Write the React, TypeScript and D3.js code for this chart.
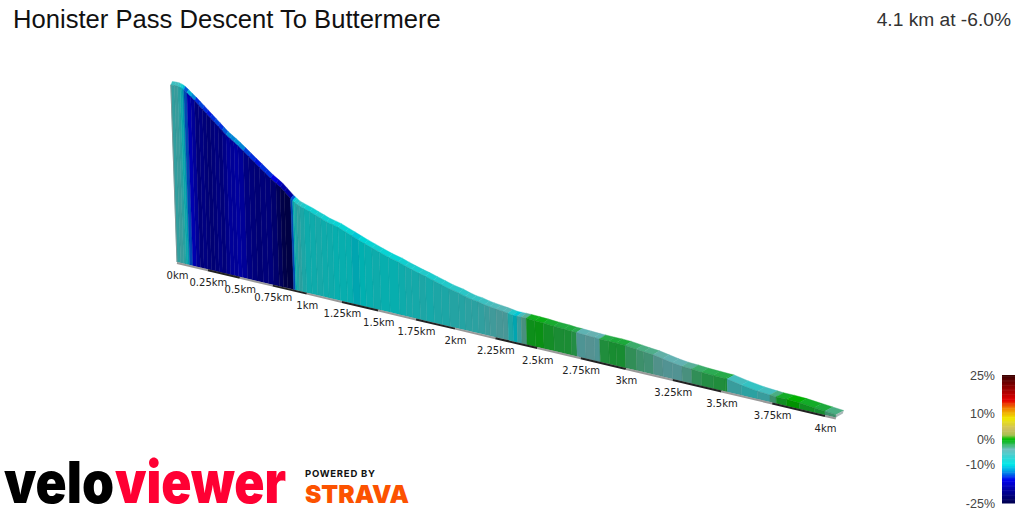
import React from "react";
import * as d3 from "d3";

const titleText = "Honister Pass Descent To Buttermere";
const summaryText = "4.1 km at -6.0%";
const tickKm = [0, 0.25, 0.5, 0.75, 1, 1.25, 1.5, 1.75, 2, 2.25, 2.5, 2.75, 3, 3.25, 3.5, 3.75, 4];
const legendTicks = [25, 10, 0, -10, -25];
const legendStopPct = [25, 20, 15, 12, 8, 4, 1.5, 0, -1.5, -4, -10, -13, -16, -20, -25];
const legendStopCol = ["#3a0000", "#900000", "#e60000", "#f08000", "#f0e800", "#cfc060", "#a8c050", "#00c000", "#20b840", "#70c0c0", "#00e8e8", "#0090e8", "#0000f0", "#0000a0", "#000050"];

const distanceKm = [0, .03, .055, .075, .09, .105, .13, .16, .19, .22, .25, .28, .31, .34, .37, .40, .43, .46, .49, .52, .56, .60, .64, .68, .72, .76, .80, .83, .86, .905, .92, .93, .95, .97, 1.0, 1.04, 1.08, 1.12, 1.16, 1.2, 1.24, 1.29, 1.33, 1.38, 1.42, 1.47, 1.52, 1.58, 1.645, 1.69, 1.73, 1.78, 1.82, 1.87, 1.92, 1.97, 2.03, 2.07, 2.11, 2.15, 2.19, 2.22, 2.26, 2.30, 2.33, 2.36, 2.385, 2.41, 2.44, 2.49, 2.54, 2.6, 2.66, 2.70, 2.73, 2.78, 2.83, 2.86, 2.91, 2.95, 3.0, 3.06, 3.1, 3.15, 3.2, 3.25, 3.3, 3.35, 3.4, 3.46, 3.52, 3.53, 3.6, 3.68, 3.74, 3.77, 3.82, 3.88, 3.95, 4.0, 4.05];
const elevationM = [356, 356, 355.5, 354.5, 353.2, 351.5, 348, 343.5, 339, 334, 329, 324, 319, 314, 309, 304, 299, 295, 291, 287, 281, 275, 269, 263, 257, 251, 246, 242, 237, 229, 227, 225.5, 223, 221.5, 219.5, 217, 214, 211, 208, 206, 204, 200, 197, 193, 190, 186.5, 183, 179, 175.7, 172.5, 170, 167, 165, 162, 159, 156, 153.5, 151, 149, 148, 146, 145, 144, 143, 142, 141, 141, 141, 141, 140.5, 140, 139, 138.5, 137.7, 137.6, 137, 136.5, 136.3, 136, 136, 135.5, 134, 133, 132, 130, 128, 126.5, 126, 125, 124.5, 124, 124, 121, 118.5, 117.5, 117, 117, 116.5, 115, 114, 113];
const gradientPct = [-6.5, -6, -7, -9, -11, -14, -16.5, -18, -20, -19.5, -20, -20.5, -20, -19.5, -20, -19, -18, -18, -17.5, -18, -19.5, -20, -20.5, -20, -20, -21, -22.5, -24, -24.5, -14, -10, -8, -7, -8, -9, -9, -8.5, -9, -9, -9.5, -9.5, -9.5, -10.5, -10, -9.5, -9, -9.5, -9.5, -9, -8.5, -8.5, -8, -8.5, -8, -8, -7.5, -7.5, -7, -7, -6.5, -6, -5.5, -5, -5, -8, -10.5, -6, -3.5, -0.8, -0.6, -1.2, -1.6, -1.6, -2, -4.5, -4, -4.5, -1.8, -1.5, -1.5, -2.5, -3, -3.2, -3.8, -4.2, -4.2, -3.5, -2.5, -2, -1.8, -1.5, -6, -7, -6, -3, -1, 0, -1, -1.5, -3];

const FLOOR_M = 110;
const PX_PER_M = 0.72;
const PERSP = -0.0622;
const depth = (d: number) => 1 / (1 + PERSP * d);
const baseX = d3.scaleLinear().domain([0, 1]).range([177, 177 + 121.7]);
const baseY = d3.scaleLinear().domain([177, 825]).range([262, 415]);
const heightPx = d3.scaleLinear().domain([FLOOR_M, FLOOR_M + 1]).range([0, PX_PER_M]);
const legendY = d3.scaleLinear().domain([25, -25]).range([375, 503]);
const colour = d3.scaleLinear<string>().domain(legendStopPct).range(legendStopCol).interpolate(d3.interpolateRgb);

type P = [number, number];
const base = (d: number): P => {
  const x = baseX(d * depth(d));
  return [x, baseY(x)];
};
const front = (d: number, e: number): P => {
  const [x, y] = base(d);
  const h = heightPx(e) * depth(d);
  return [x - h * 0.035, y - h];
};
const rear = (d: number, e: number): P => {
  const [x, y] = front(d, e);
  return [x + 1.5 + 1.6 * d, y - 3.4 - 0.2 * d];
};
const poly = (pts: P[]) => (d3.line()(pts) ?? "") + "Z";
const shade = (c: string, k: number) => {
  const q = d3.rgb(c);
  return d3.rgb(q.r * k, q.g * k, q.b * k).formatHex();
};
const topColour = (g: number) => shade(colour(g < -14 ? g + 5 : g), 0.92);
const wallColour = (g: number) => shade(colour(g), 0.76);

export default function App() {
  const segs = gradientPct.map((g, i) => ({
    g,
    d0: distanceKm[i],
    d1: distanceKm[i + 1],
    e0: elevationM[i],
    e1: elevationM[i + 1],
  }));
  const endD = distanceKm[distanceKm.length - 1];
  const endE = elevationM[elevationM.length - 1];
  const bands = tickKm.slice(0, -1).map((d, i) => ({ d0: d, d1: tickKm[i + 1], dark: i % 2 === 1 }));
  const legendRows = d3.range(25, -25, -0.5);
  return (
    <svg width={1024} height={512} style={{ position: "absolute", left: 0, top: 0 }}>
      <rect width={1024} height={512} fill="#fff" />
      <text x={13} y={28} fontFamily="Liberation Sans" fontSize={25.6} fill="#111">{titleText}</text>
      <text x={1011} y={26} textAnchor="end" fontFamily="Liberation Sans" fontSize={19.2} fill="#333">{summaryText}</text>

      <g>
        {segs.map((s, i) => {
          const c = topColour(s.g);
          return (
            <path key={"t" + i} d={poly([front(s.d0, s.e0), front(s.d1, s.e1), rear(s.d1, s.e1), rear(s.d0, s.e0)])} fill={c} stroke={c} strokeWidth={0.4} />
          );
        })}
        <path d={poly([base(endD), [base(endD)[0] + 7, base(endD)[1] - 4], [rear(endD, endE)[0], rear(endD, endE)[1]], front(endD, endE)])} fill="#a9b8b8" />
        {segs.map((s, i) => {
          const c = wallColour(s.g);
          return (
            <path key={"w" + i} d={poly([base(s.d0), base(s.d1), front(s.d1, s.e1), front(s.d0, s.e0)])} fill={c} stroke={shade(c, 0.93)} strokeWidth={0.4} />
          );
        })}
        <path d={d3.line()([front(0, elevationM[0]), base(0)]) ?? ""} stroke="#7f9a9a" strokeWidth={1} fill="none" />
      </g>

      <g>
        {bands.map((b, i) => (
          <line key={i} x1={base(b.d0)[0]} y1={base(b.d0)[1] + 1} x2={base(b.d1)[0]} y2={base(b.d1)[1] + 1} stroke={b.dark ? "#222" : "#999"} strokeWidth={2} />
        ))}
        <line x1={base(4)[0]} y1={base(4)[1] + 1} x2={base(endD)[0]} y2={base(endD)[1] + 1} stroke="#999" strokeWidth={2} />
      </g>

      <g fontFamily="DejaVu Sans" fontSize={10} fill="#222" textAnchor="middle">
        {tickKm.map((d) => (
          <text key={d} x={base(d)[0] + 0.5} y={base(d)[1] + 16.5}>{d + "km"}</text>
        ))}
      </g>

      <g>
        {legendRows.map((p) => (
          <rect key={p} x={1002} y={legendY(p)} width={13} height={legendY(p - 0.5) - legendY(p) + 0.5} fill={colour(p - 0.25)} />
        ))}
        {legendTicks.map((t) => (
          <text key={t} x={995} y={legendY(t) + 4.5} textAnchor="end" fontFamily="Liberation Sans" fontSize={12.5} fill="#444">{t + "%"}</text>
        ))}
      </g>

      <g fontFamily="Inter" fontWeight={900}>
        <text x={4} y={503} fontSize={58} textLength={110} lengthAdjust="spacingAndGlyphs" fill="#000">velo</text>
        <text x={115} y={503} fontSize={58} textLength={171} lengthAdjust="spacingAndGlyphs" fill="#ff0033">viewer</text>
        <text x={305} y={477} fontSize={9.5} fontWeight={700} textLength={70} fill="#111">POWERED BY</text>
        <text x={305} y={503} fontSize={25} textLength={104} lengthAdjust="spacingAndGlyphs" fill="#fc5200">STRAVA</text>
      </g>
    </svg>
  );
}
